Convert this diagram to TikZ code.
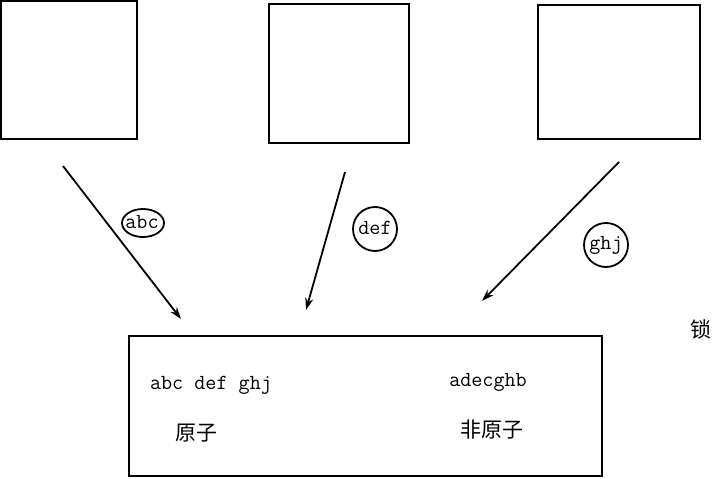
\documentclass[tikz,border=0pt]{standalone}
\usepackage{fontspec}
\newfontfamily\cjk{Noto Sans CJK SC}
\usetikzlibrary{arrows.meta}
\begin{document}
\begin{tikzpicture}[x=1pt,y=-1pt,
  box/.style={draw,line width=1.8pt},
  conn/.style={draw,line width=1.8pt,-{Stealth[length=12pt,width=8pt]}},
  lbl/.style={font=\fontsize{21.5}{21.5}\selectfont\ttfamily,inner sep=0pt},
  zh/.style={font=\fontsize{21}{21}\selectfont\cjk,inner sep=0pt}]
\useasboundingbox (0,0) rectangle (712,479);
\node[box,minimum width=136pt,minimum height=138pt,inner sep=0pt] (b1) at (69,70) {};
\node[box,minimum width=140pt,minimum height=139pt,inner sep=0pt] (b2) at (339,73.5) {};
\node[box,minimum width=162pt,minimum height=134pt,inner sep=0pt] (b3) at (619,72) {};
\node[box,minimum width=473pt,minimum height=140pt,inner sep=0pt] (main) at (365.5,406) {};
\coordinate (s1) at (63,166);
\coordinate (e1) at (181,319);
\coordinate (s2) at (345,172);
\coordinate (e2) at (306,310);
\coordinate (s3) at (619,162);
\coordinate (e3) at (482,301);
\draw[conn] (s1) -- (e1);
\draw[conn] (s2) -- (e2);
\draw[conn] (s3) -- (e3);
\draw[line width=1.8pt] (143,223) ellipse (21pt and 14pt);
\node[lbl] (abc) at (142,222) {abc};
\draw[line width=1.8pt] (375,229) circle (22pt);
\node[lbl] (def) at (375,228) {def};
\draw[line width=1.8pt] (606,245) circle (22pt);
\node[lbl] (ghj) at (606,245) {ghj};
\node[lbl] (t1) at (211,385) {abc def ghj};
\node[zh] (t2) at (196,433) {原子};
\node[lbl] (t3) at (488,382) {adecghb};
\node[zh] (t4) at (492,430) {非原子};
\node[zh] (t5) at (701,329) {锁};
\end{tikzpicture}
\end{document}
